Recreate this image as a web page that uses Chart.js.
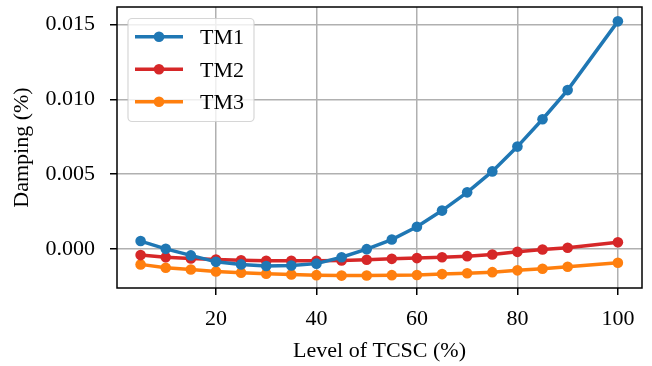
<!DOCTYPE html>
<html>
<head>
<meta charset="utf-8">
<script src="https://cdn.jsdelivr.net/npm/chart.js@4"></script>
<style>
  html, body { margin: 0; padding: 0; background: #fff; }
  #box { width: 652px; height: 366px; }
</style>
</head>
<body>
<div id="box"><canvas id="dampingChart"></canvas></div>
<script>
// Niveles de TCSC (%)
const niveles = [5, 10, 15, 20, 25, 30, 35, 40, 45, 50, 55, 60, 65, 70, 75, 80, 85, 90, 100];
// Amortiguamiento por modo (%)
const tm1 = [0.00052, 0.0000, -0.00044, -0.00087, -0.00104, -0.00115, -0.00111, -0.00099, -0.00056, -0.00002,
             0.00062, 0.00148, 0.00256, 0.00378, 0.00518, 0.00684, 0.00867, 0.01062, 0.01522];
const tm2 = [-0.00042, -0.00056, -0.00064, -0.00071, -0.00077, -0.0008, -0.0008, -0.0008, -0.00078, -0.00073,
             -0.00067, -0.00062, -0.00056, -0.00049, -0.00038, -0.0002, -0.00004, 0.00007, 0.00044];
const tm3 = [-0.00104, -0.00127, -0.00138, -0.00151, -0.0016, -0.00166, -0.00171, -0.00176, -0.00179, -0.00178,
             -0.00176, -0.00175, -0.00169, -0.00163, -0.00156, -0.00144, -0.00133, -0.0012, -0.00093];
const etiquetas = ['TM1', 'TM2', 'TM3'];
const colores = ['#1f77b4', '#d62728', '#ff7f0e'];
const xTicks = [20, 40, 60, 80, 100];
const yTicks = [0, 0.005, 0.010, 0.015];

const fuente = 'Liberation Serif, Times New Roman, serif';

function serie(valores, i) {
    return {
        label: etiquetas[i],
        data: niveles.map((x, k) => ({ x: x, y: valores[k] })),
        borderColor: colores[i],
        backgroundColor: colores[i],
        borderWidth: 3.5,
        pointRadius: 5.3,
        pointHoverRadius: 5.3,
        pointBorderWidth: 0,
        tension: 0
    };
}

// Marco completo y leyenda al estilo matplotlib
const marcoYLeyenda = {
    id: 'marcoYLeyenda',
    afterDraw(chart) {
        const ctx = chart.ctx;
        const a = chart.chartArea;
        ctx.save();
        ctx.strokeStyle = '#000';
        ctx.lineWidth = 1.5;
        ctx.strokeRect(a.left, a.top, a.right - a.left, a.bottom - a.top);

        // leyenda
        const lx = 128, ly = 18.5, lw = 126, lh = 103, r = 4;
        ctx.fillStyle = 'rgba(255,255,255,0.8)';
        ctx.strokeStyle = 'rgba(204,204,204,0.8)';
        ctx.lineWidth = 1.2;
        ctx.beginPath();
        ctx.roundRect(lx, ly, lw, lh, r);
        ctx.fill();
        ctx.stroke();
        chart.data.datasets.forEach((ds, i) => {
            const y = 36.7 + i * 32.5;
            ctx.strokeStyle = ds.borderColor;
            ctx.lineWidth = 3.5;
            ctx.beginPath();
            ctx.moveTo(135, y);
            ctx.lineTo(183, y);
            ctx.stroke();
            ctx.fillStyle = ds.borderColor;
            ctx.beginPath();
            ctx.arc(159, y, 5.3, 0, Math.PI * 2);
            ctx.fill();
            ctx.fillStyle = '#000';
            ctx.font = '22px ' + fuente;
            ctx.textBaseline = 'middle';
            ctx.textAlign = 'left';
            ctx.fillText(ds.label, 200, y + 2);
        });
        ctx.restore();
    }
};

const ctx = document.getElementById('dampingChart').getContext('2d');
new Chart(ctx, {
    type: 'line',
    data: {
        datasets: [serie(tm1, 0), serie(tm2, 1), serie(tm3, 2)]
    },
    options: {
        responsive: true,
        maintainAspectRatio: false,
        animation: false,
        layout: { padding: { top: 7, right: 10, left: 0, bottom: 0 } },
        plugins: {
            legend: { display: false },
            tooltip: { enabled: false }
        },
        scales: {
            x: {
                type: 'linear',
                min: 0.3,
                max: 104.8,
                afterBuildTicks: s => { s.ticks = xTicks.map(v => ({ value: v })); },
                afterFit: s => { s.height = 78; s.paddingLeft = 0; s.paddingRight = 0; },
                grid: { color: '#b0b0b0', lineWidth: 1.5, tickColor: '#000', tickLength: 7, tickWidth: 1.5 },
                border: { display: false },
                ticks: {
                    color: '#000',
                    font: { family: fuente, size: 22 },
                    padding: 11,
                    maxRotation: 0,
                    callback: v => v
                },
                title: {
                    display: true,
                    text: 'Level of TCSC (%)',
                    color: '#000',
                    font: { family: fuente, size: 22 },
                    padding: { top: 0, bottom: 2 }
                }
            },
            y: {
                type: 'linear',
                min: -0.00262,
                max: 0.01618,
                afterBuildTicks: s => { s.ticks = yTicks.map(v => ({ value: v })); },
                afterFit: s => { s.width = 117; s.paddingTop = 0; s.paddingBottom = 0; },
                grid: { color: '#b0b0b0', lineWidth: 1.5, tickColor: '#000', tickLength: 7, tickWidth: 1.5 },
                border: { display: false },
                ticks: {
                    color: '#000',
                    font: { family: fuente, size: 22 },
                    padding: 15,
                    callback: v => v.toFixed(3)
                },
                title: {
                    display: true,
                    text: 'Damping (%)',
                    color: '#000',
                    font: { family: fuente, size: 22 },
                    padding: { top: 9, bottom: 0 }
                }
            }
        }
    },
    plugins: [marcoYLeyenda]
});
</script>
</body>
</html>
